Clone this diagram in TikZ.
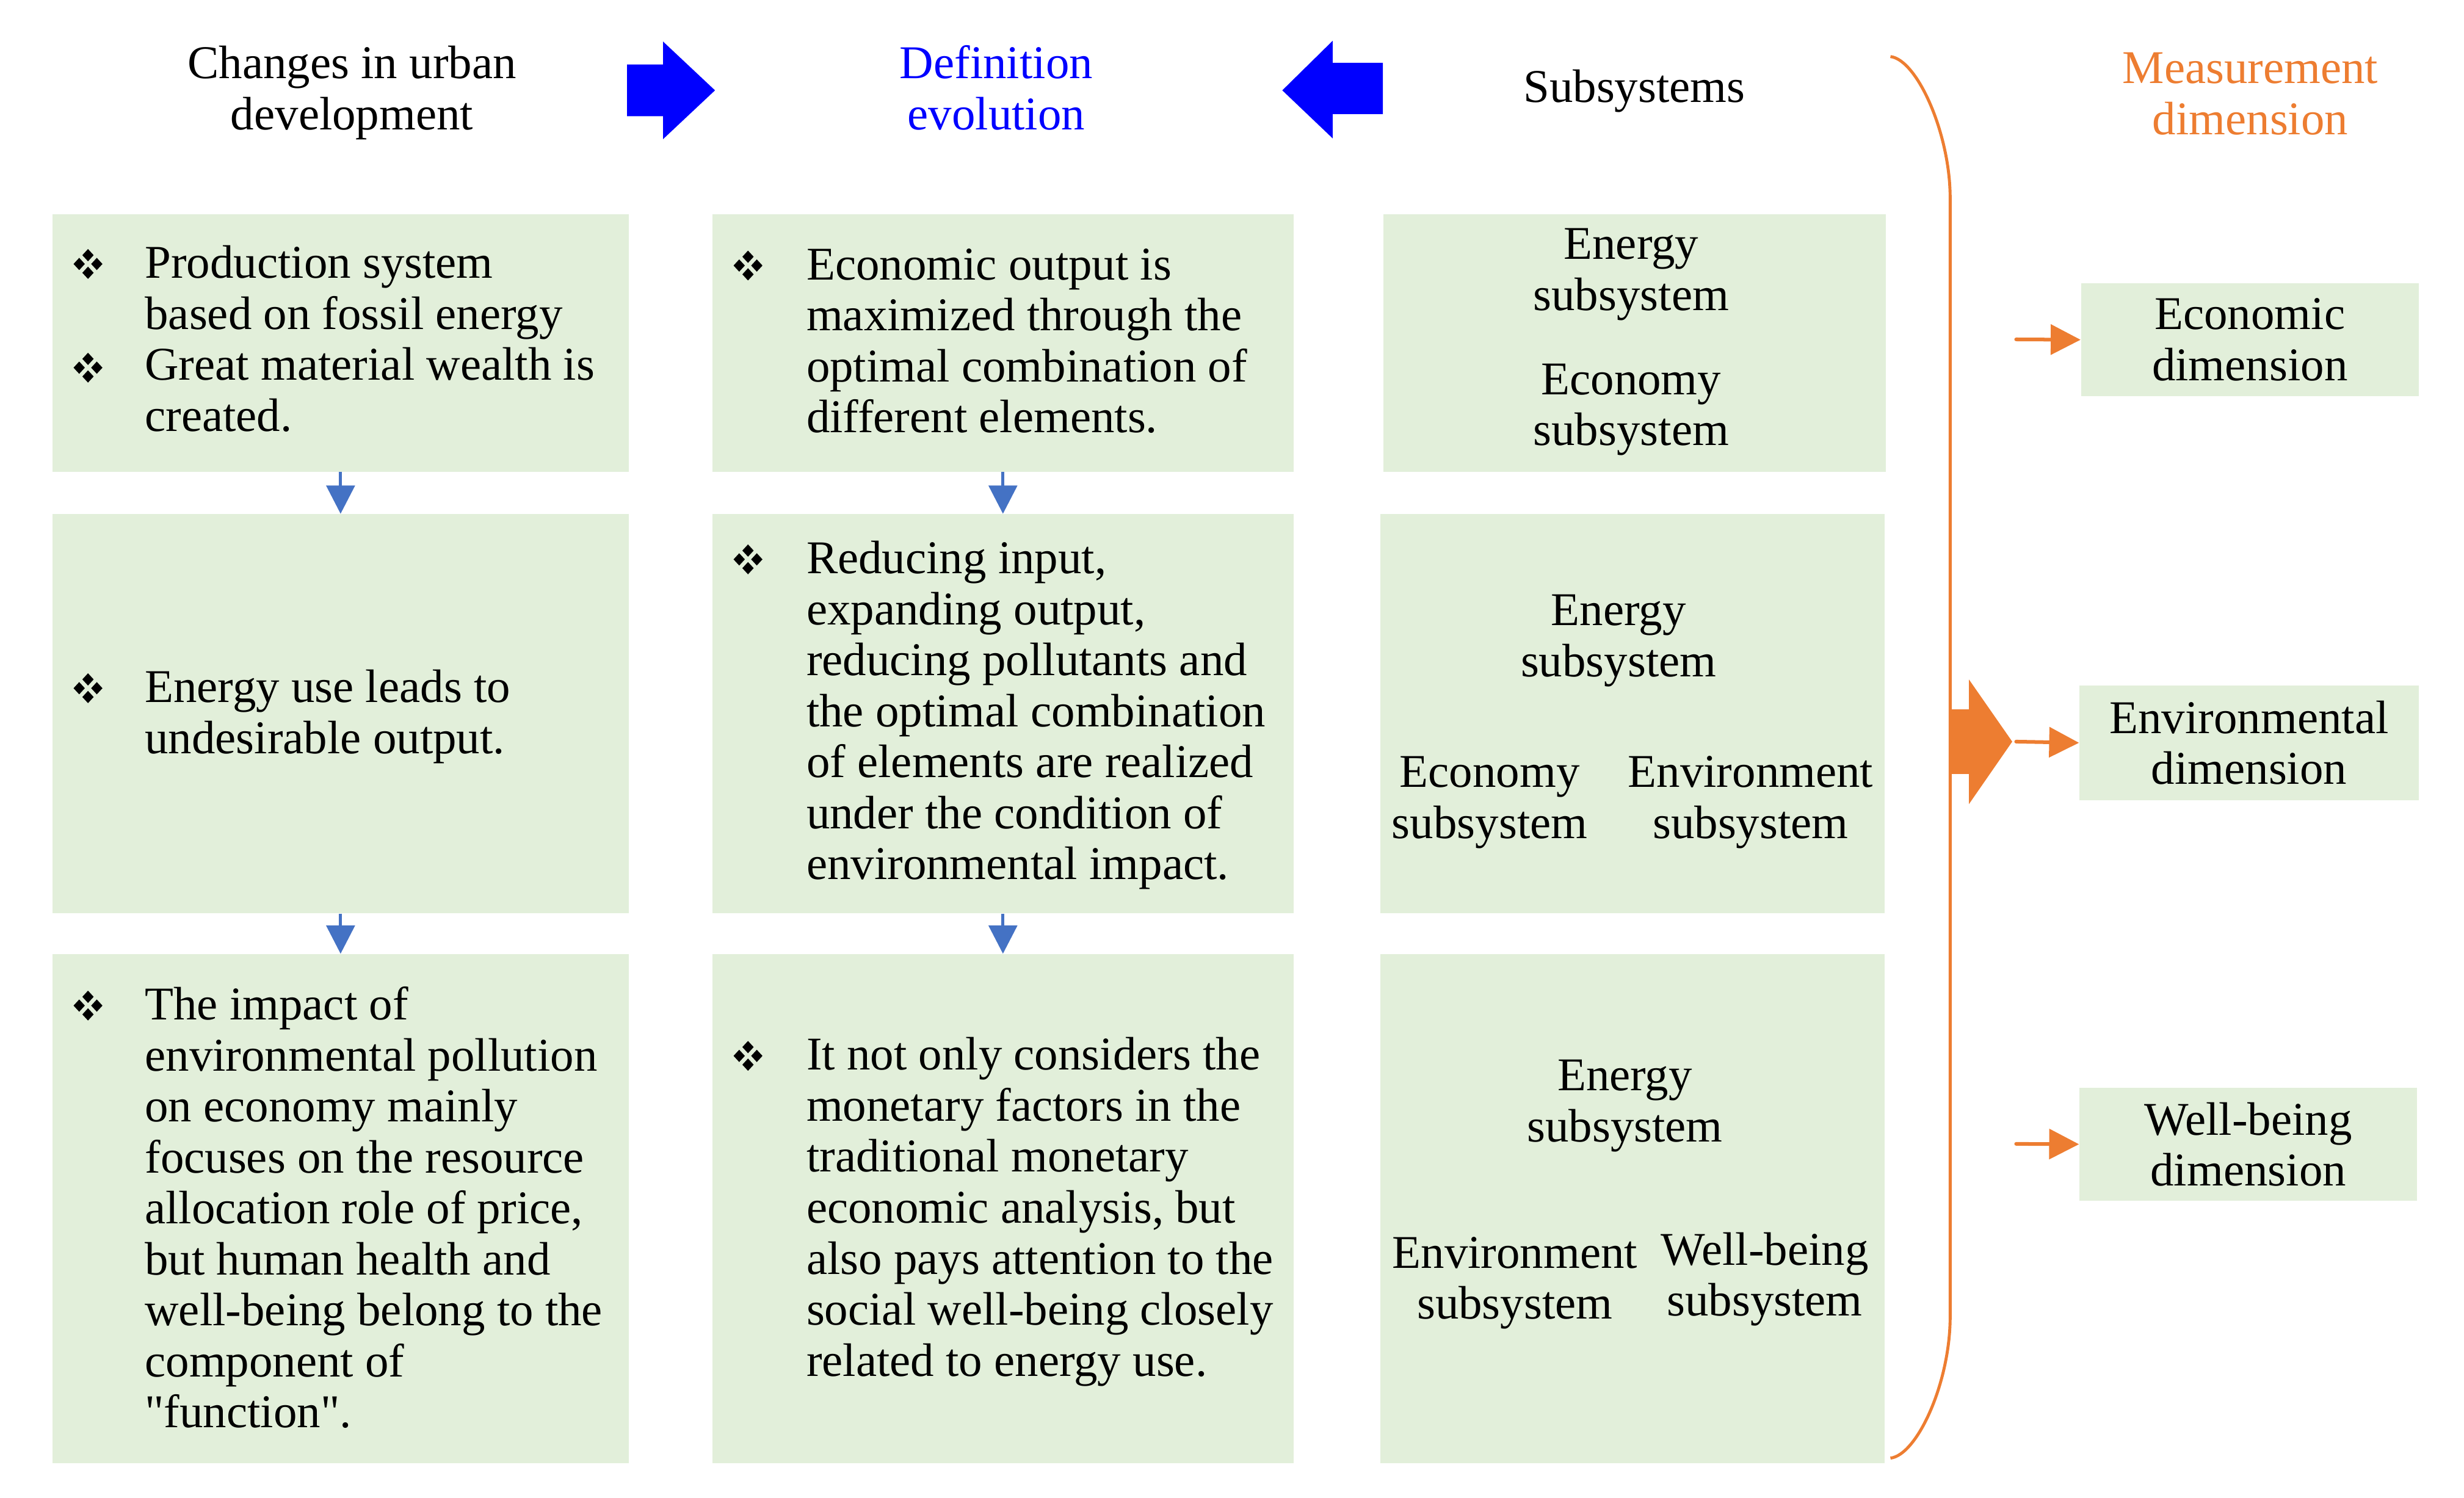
\documentclass[tikz,border=0pt]{standalone}
\usepackage{fontspec}
\setmainfont{Liberation Serif}
\usetikzlibrary{arrows.meta}
\definecolor{boxgreen}{HTML}{E2EFDA}
\definecolor{arrblue}{HTML}{4472C4}
\definecolor{orng}{HTML}{ED7D31}
\definecolor{hblue}{HTML}{0000FF}
\begin{document}
\begin{tikzpicture}[x=0.3mm,y=-0.3mm,
  box/.style={fill=boxgreen, draw=none, inner sep=0pt, anchor=north west},
  txt/.style={font=\fontsize{25.5}{27.7}\selectfont, inner sep=0pt, align=left, anchor=base west},
  ctxt/.style={font=\fontsize{25.5}{27.7}\selectfont, inner sep=0pt, align=center, anchor=base},
  dimbox/.style={fill=boxgreen, draw=none, inner sep=0pt, anchor=north west, align=center, font=\fontsize{25.5}{27.7}\selectfont},
  downarrow/.style={draw=arrblue, line width=0.6mm, -{Triangle[length=5.4mm,width=5.4mm]}},
  dimarrow/.style={draw=orng, line width=0.7mm, line cap=round, -{Triangle[length=5.7mm,width=5.7mm]}},
  bul/.pic={
    \foreach \dx/\dy in {0/-5.6,0/5.6,-5.6/0,5.6/0}
      \fill[black, shift={(\dx,\dy)}] (-3.6,0) -- (0,-3.9) -- (3.6,0) -- (0,3.9) -- cycle;
  }
]
\useasboundingbox (0,0) rectangle (1568,953);

% headers (y = baseline of last line)
\node[ctxt] (h1) at (224,82.5) {Changes in urban\\development};
\node[ctxt, text=hblue] (h2) at (634,82.5) {Definition\\ evolution};
\node[ctxt] (h3) at (1040,65) {Subsystems};
\node[ctxt, text=orng] (h4) at (1432,85.5) {Measurement\\dimension};

% big blue arrows
\fill[hblue] (399,41) -- (422,41) -- (422,26.5) -- (455,57.5) -- (422,88.5) -- (422,74) -- (399,74) -- cycle;
\fill[hblue] (880,40) -- (848,40) -- (848,26) -- (816,57.5) -- (848,88) -- (848,72.6) -- (880,72.6) -- cycle;

% column 1 boxes
\node[box, minimum width=110.1mm, minimum height=49.2mm] (c1b1) at (33,136) {};
\node[box, minimum width=110.1mm, minimum height=76.2mm] (c1b2) at (33,327) {};
\node[box, minimum width=110.1mm, minimum height=97.2mm] (c1b3) at (33,607) {};
% column 2 boxes
\node[box, minimum width=111mm, minimum height=49.2mm] (c2b1) at (453,136) {};
\node[box, minimum width=111mm, minimum height=76.2mm] (c2b2) at (453,327) {};
\node[box, minimum width=111mm, minimum height=97.2mm] (c2b3) at (453,607) {};
% column 3 boxes
\node[box, minimum width=96mm, minimum height=49.2mm] (c3b1) at (880,136) {};
\node[box, minimum width=96.3mm, minimum height=76.2mm] (c3b2) at (878,327) {};
\node[box, minimum width=96.3mm, minimum height=97.2mm] (c3b3) at (878,607) {};
% column 4 boxes
\node[dimbox, minimum width=64.5mm, minimum height=21.6mm] (c4b1) at (1324,180) {Economic\\dimension};
\node[dimbox, minimum width=64.8mm, minimum height=21.9mm] (c4b2) at (1323,436) {Environmental\\dimension};
\node[dimbox, minimum width=64.5mm, minimum height=21.6mm] (c4b3) at (1323,692) {Well-being\\dimension};

% column 1 texts
\pic at (56,168) {bul};
\pic at (56,234) {bul};
\node[txt] (t11) at (92,274.4) {Production system\\based on fossil energy\\Great material wealth is\\created.};
\pic at (56,438) {bul};
\node[txt] (t12) at (92,479.5) {Energy use leads to\\undesirable output.};
\pic at (56,640) {bul};
\node[txt] (t13) at (92,908.6) {The impact of\\environmental pollution\\on economy mainly\\focuses on the resource\\allocation role of price,\\but human health and\\well-being belong to the\\component of\\\textquotedbl function\textquotedbl.};

% column 2 texts
\pic at (476,169) {bul};
\node[txt] (t21) at (513,275.4) {Economic output is\\maximized through the\\optimal combination of\\different elements.};
\pic at (476,356) {bul};
\node[txt] (t22) at (513,559.7) {Reducing input,\\expanding output,\\reducing pollutants and\\the optimal combination\\of elements are realized\\under the condition of\\environmental impact.};
\pic at (476,672) {bul};
\node[txt] (t23) at (513,875.7) {It not only considers the\\monetary factors in the\\traditional monetary\\economic analysis, but\\also pays attention to the\\social well-being closely\\related to energy use.};

% column 3 texts
\node[ctxt] (s11) at (1038,197.5) {Energy\\subsystem};
\node[ctxt] (s12) at (1038,283.5) {Economy\\subsystem};
\node[ctxt] (s21) at (1030,430.5) {Energy\\subsystem};
\node[ctxt] (s22) at (948,533.5) {Economy\\subsystem};
\node[ctxt] (s23) at (1114,533.5) {Environment\\subsystem};
\node[ctxt] (s31) at (1034,726.5) {Energy\\subsystem};
\node[ctxt] (s32) at (964,839.5) {Environment\\subsystem};
\node[ctxt] (s33) at (1123,837.5) {Well-being\\subsystem};

% blue down arrows
\draw[downarrow] (c1b1.south) -- (c1b2.north);
\draw[downarrow] (c1b2.south) -- (c1b3.north);
\draw[downarrow] (c2b1.south) -- (c2b2.north);
\draw[downarrow] (c2b2.south) -- (c2b3.north);

% orange brace
\draw[orng, line width=0.57mm] (1203,36) .. controls (1220,38) and (1241,85) .. (1241,126) -- (1241,838) .. controls (1241,880) and (1220,926) .. (1203,928);
% big orange arrow
\fill[orng] (1241,451.5) -- (1253,451.5) -- (1253,432.5) -- (1280.5,472) -- (1253,511.7) -- (1253,492.6) -- (1241,492.6) -- cycle;

% small orange arrows
\coordinate (a1) at (1283,216);
\coordinate (a2) at (1283,472);
\coordinate (a3) at (1283,728);
\draw[dimarrow] (a1) -- (c4b1.west);
\draw[dimarrow] (a2) -- (c4b2.west);
\draw[dimarrow] (a3) -- (c4b3.west);
\end{tikzpicture}
\end{document}
